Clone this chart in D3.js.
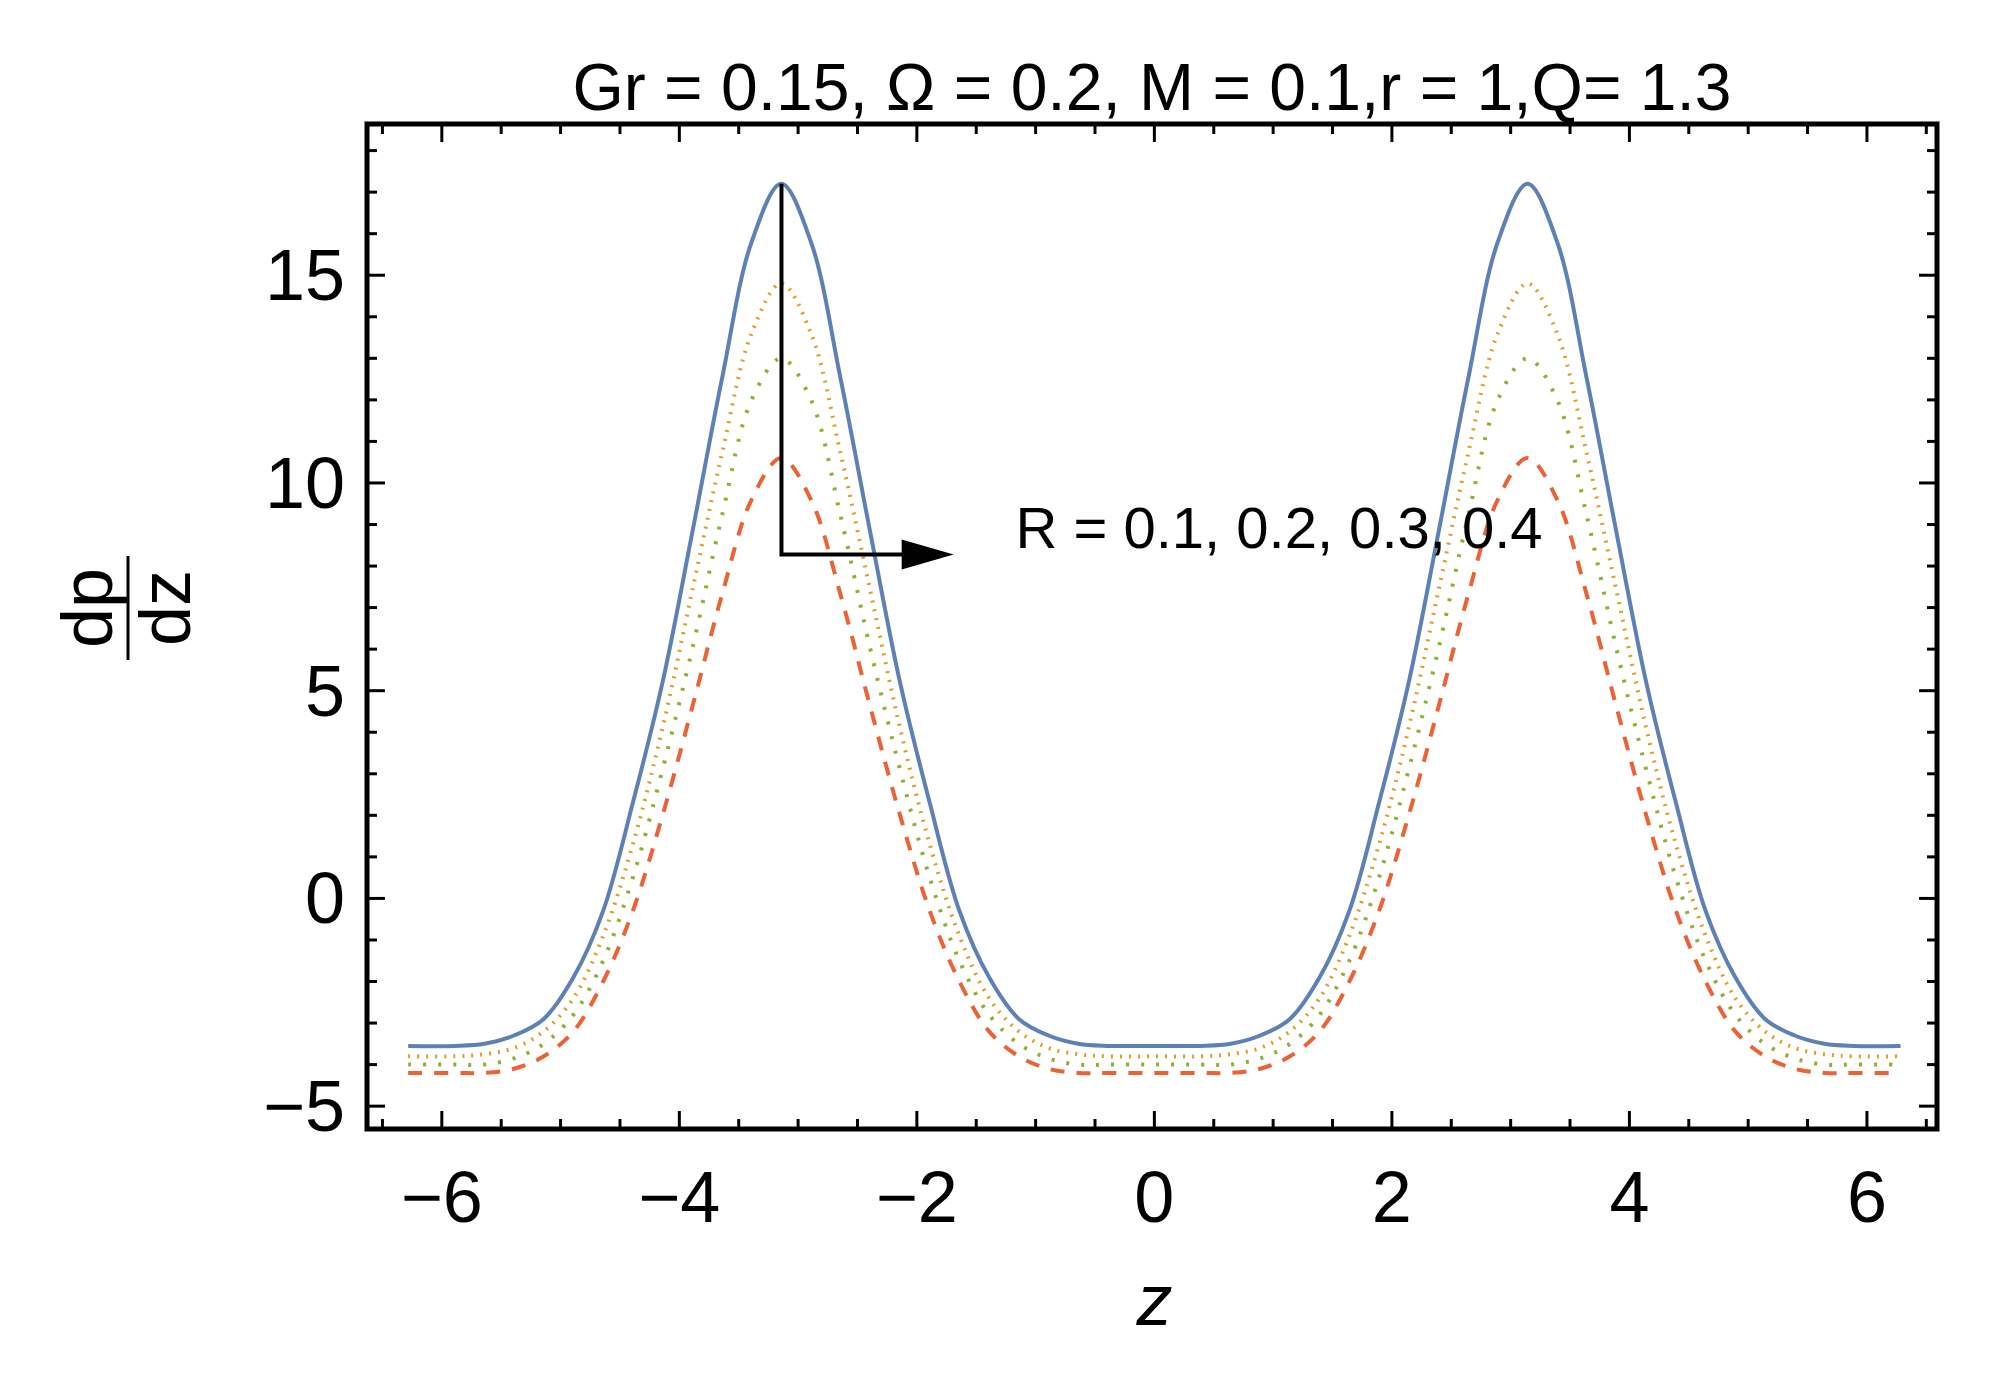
<!DOCTYPE html>
<html><head><meta charset="utf-8">
<script src="https://cdn.jsdelivr.net/npm/d3@7"></script>
<style>body{margin:0;background:#fff}svg{font-family:"Liberation Sans",Arial,sans-serif}</style>
</head><body><div id="chart"></div>
<script>
// profile offsets from each peak (peaks at z = ±π)
const offsets = [0, 0.25, 0.5, 0.75, 1.0, 1.25, 1.5, 1.75, 2.0, 2.25, 2.5, 2.75, Math.PI];
const peaks = [-Math.PI, Math.PI];
const seriesR1 = [17.2, 15.8, 12.5, 8.8, 5.2, 2.3, -0.3, -1.9, -2.9, -3.3, -3.5, -3.55, -3.55];
const seriesR2 = [14.8, 13.6, 10.7, 7.4, 4.1, 1.3, -0.9, -2.4, -3.2, -3.6, -3.75, -3.8, -3.8];
const seriesR3 = [13.0, 12.0, 9.2, 6.0, 3.1, 0.5, -1.5, -2.8, -3.5, -3.85, -4.0, -4.0, -4.0];
const seriesR4 = [10.6, 9.6, 7.3, 4.6, 2.0, -0.3, -2.0, -3.2, -3.8, -4.1, -4.2, -4.2, -4.2];
const xTicks = [-6, -4, -2, 0, 2, 4, 6];
const yTicks = [-5, 0, 5, 10, 15];

const styles = [
  {values: seriesR1, color: "#5e81b5", dash: null, width: 4},
  {values: seriesR2, color: "#e19c24", dash: "2,7", width: 4},
  {values: seriesR3, color: "#8fb032", dash: "3,12", width: 4},
  {values: seriesR4, color: "#eb6235", dash: "14,12", width: 4}
];

const W = 2004, H = 1379;
const m = {left: 367, right: 67, top: 124, bottom: 250};
const x = d3.scaleLinear([-6.63, 6.59], [m.left, W - m.right]);
const y = d3.scaleLinear([-5.55, 18.64], [H - m.bottom, m.top]);

const svg = d3.select("#chart").append("svg").attr("width", W).attr("height", H);

function points(vals) {
  const pts = [];
  peaks.forEach(c => {
    for (let i = offsets.length - 1; i > 0; i--) pts.push([c - offsets[i], vals[i]]);
    for (let i = 0; i < offsets.length; i++) pts.push([c + offsets[i], vals[i]]);
  });
  return pts.filter((p, i, a) => i === 0 || p[0] > a[i - 1][0] + 1e-9);
}

const line = d3.line().x(d => x(d[0])).y(d => y(d[1])).curve(d3.curveCatmullRom);
svg.append("defs").append("clipPath").attr("id", "clip").append("rect")
  .attr("x", m.left).attr("y", m.top).attr("width", W - m.left - m.right).attr("height", H - m.top - m.bottom);

styles.slice().reverse().forEach(s => {
  svg.append("path").datum(points(s.values)).attr("clip-path", "url(#clip)")
    .attr("fill", "none").attr("stroke", s.color).attr("stroke-width", s.width)
    .attr("stroke-dasharray", s.dash).attr("d", line);
});

// axes with ticks on all sides
const x0 = m.left, x1 = W - m.right, y0 = H - m.bottom, y1 = m.top;
const g = svg.append("g").attr("stroke", "#000").attr("stroke-width", 3);
d3.range(-6.5, 6.6, 0.5).forEach(v => {
  const big = xTicks.includes(v), L = big ? 18 : 10;
  g.append("line").attr("x1", x(v)).attr("x2", x(v)).attr("y1", y0).attr("y2", y0 - L);
  g.append("line").attr("x1", x(v)).attr("x2", x(v)).attr("y1", y1).attr("y2", y1 + L);
});
d3.range(-5, 19, 1).forEach(v => {
  const big = yTicks.includes(v), L = big ? 18 : 10;
  g.append("line").attr("y1", y(v)).attr("y2", y(v)).attr("x1", x0).attr("x2", x0 + L);
  g.append("line").attr("y1", y(v)).attr("y2", y(v)).attr("x1", x1).attr("x2", x1 - L);
});
svg.append("rect").attr("x", x0).attr("y", y1).attr("width", x1 - x0).attr("height", y0 - y1)
  .attr("fill", "none").attr("stroke", "#000").attr("stroke-width", 5);

const fmt = v => v < 0 ? "\u2212" + Math.abs(v) : String(v);
svg.append("g").selectAll("text").data(xTicks).join("text")
  .attr("x", d => x(d)).attr("y", y0 + 93).attr("text-anchor", "middle")
  .attr("font-size", 72).text(fmt);
svg.append("g").selectAll("text").data(yTicks).join("text")
  .attr("x", x0 - 22).attr("y", d => y(d) + 25).attr("text-anchor", "end")
  .attr("font-size", 72).text(fmt);

svg.append("text").attr("x", (x0 + x1) / 2).attr("y", 110).attr("text-anchor", "middle")
  .attr("font-size", 66).text("Gr = 0.15, \u03a9 = 0.2, M = 0.1,r = 1,Q= 1.3");
svg.append("text").attr("x", x(0)).attr("y", 1325).attr("text-anchor", "middle")
  .attr("font-size", 72).attr("font-style", "italic").text("z");
// dp/dz label, rotated
const lab = svg.append("g").attr("transform", "translate(128,608) rotate(-90)");
lab.append("text").attr("x", 0).attr("y", -16).attr("text-anchor", "middle").attr("font-size", 72).text("dp");
lab.append("line").attr("x1", -52).attr("x2", 52).attr("y1", 0).attr("y2", 0).attr("stroke", "#000").attr("stroke-width", 3);
lab.append("text").attr("x", 0).attr("y", 62).attr("text-anchor", "middle").attr("font-size", 72).text("dz");

// annotation arrow
const ax = -3.14, ayTop = 17.2, ayBot = 8.28, aEnd = -1.69;
svg.append("path").attr("fill", "none").attr("stroke", "#000").attr("stroke-width", 4)
  .attr("d", `M${x(ax)},${y(ayTop)}V${y(ayBot)}H${x(aEnd) - 40}`);
svg.append("path").attr("fill", "#000")
  .attr("d", `M${x(aEnd)},${y(ayBot)}l-52,-15v30z`);
svg.append("text").attr("x", x(-1.17)).attr("y", y(8.44)).attr("font-size", 58)
  .text("R = 0.1, 0.2, 0.3, 0.4");
</script></body></html>
